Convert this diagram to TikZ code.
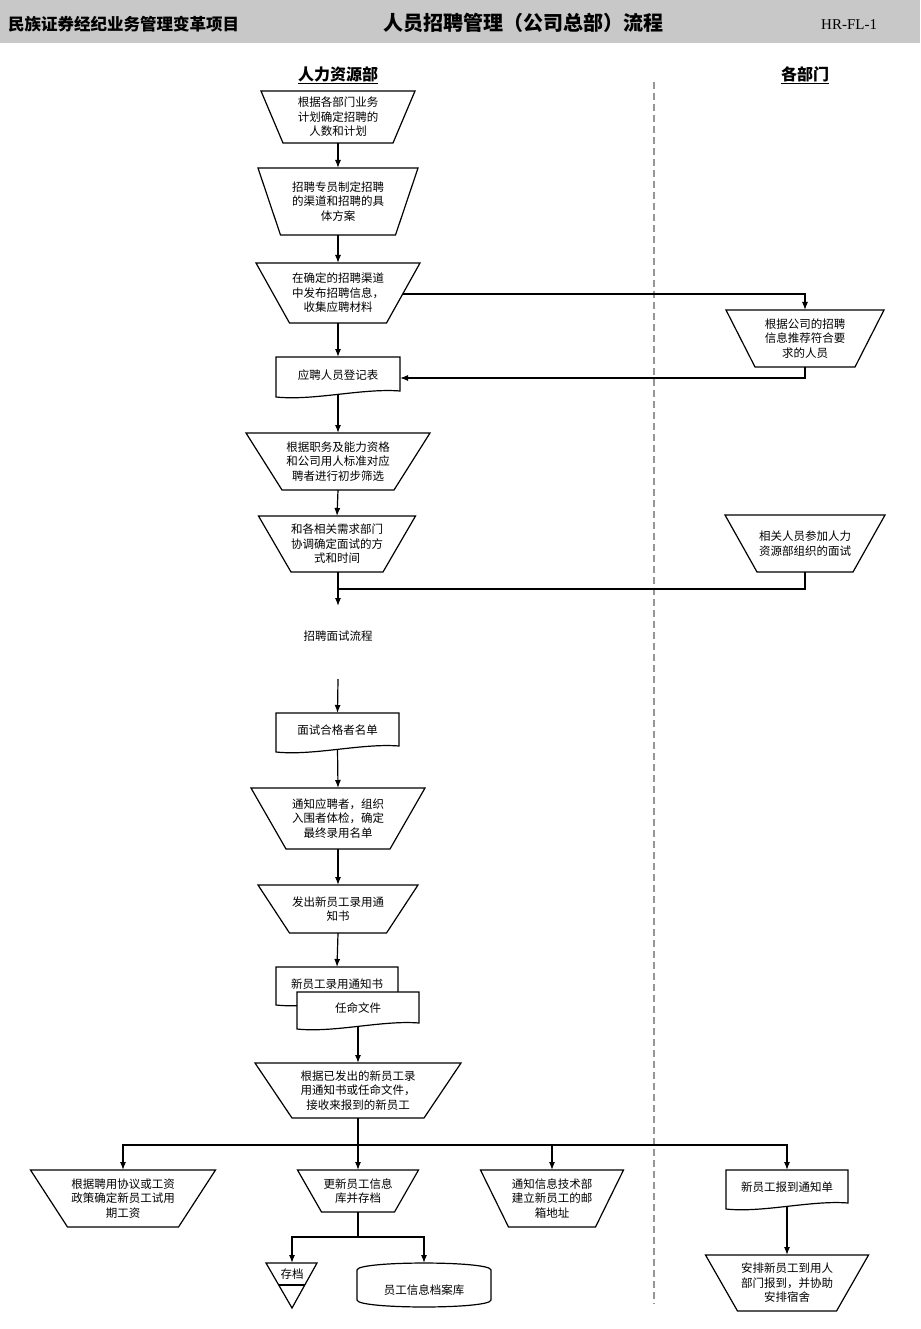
\documentclass[tikz,border=0pt]{standalone}
\usepackage{fontspec}
\setmainfont{Liberation Serif}
\newfontfamily\cjk{Noto Sans CJK SC}
\usetikzlibrary{arrows.meta}
\definecolor{hdrgray}{RGB}{200,200,200}
\definecolor{lanegray}{RGB}{150,150,150}
\tikzset{
  shp/.style={draw=black, line width=1.2pt, fill=white, line join=miter},
  txt/.style={font=\cjk\fontsize{11.5}{14.5}\selectfont, align=center, inner sep=0pt},
  con/.style={draw=black, line width=1.2pt},
  arr/.style={con, -{Latex[length=8pt,width=6pt]}},
  lane/.style={draw=lanegray, line width=1.2pt, dash pattern=on 7pt off 4pt},
  colhead/.style={font=\cjk\bfseries\fontsize{16}{18}\selectfont, inner sep=0pt},
}
% trapezoid: name, cx, ytop, half top, ybot, half bottom, text
\newcommand{\trapz}[7]{%
  \draw[shp] ({#2-#4},#3) -- ({#2+#4},#3) -- ({#2+#6},#5) -- ({#2-#6},#5) -- cycle;
  \node[txt] (#1) at (#2,{(#3+#5)/2}) {#7};
  \coordinate (#1t) at (#2,#3);
  \coordinate (#1b) at (#2,#5);
}
% document: name, x1, x2, ytop, ybottom(left), text
\newcommand{\docu}[6]{%
  \draw[shp] (#2,#5) -- (#2,#4) -- (#3,#4) -- (#3,{#5-6})
     .. controls ({#3-0.3*(#3-#2)},{#5-9}) and ({#2+0.3*(#3-#2)},{#5+4}) .. cycle;
  \node[txt] (#1) at ({(#2+#3)/2},{(#4+#5)/2-2}) {#6};
  \coordinate (#1t) at ({(#2+#3)/2},#4);
  \coordinate (#1b) at ({(#2+#3)/2},{#5-3});
}
\begin{document}
\begin{tikzpicture}[x=1pt,y=-1pt]
\useasboundingbox (0,0) rectangle (920,1329);
% header band
\fill[hdrgray] (0,0) rectangle (920,43);
\node[anchor=west, inner sep=0pt, font=\cjk\bfseries\fontsize{16.5}{18}\selectfont] (proj) at (8,24) {民族证券经纪业务管理变革项目};
\node[inner sep=0pt, font=\cjk\bfseries\fontsize{20}{22}\selectfont] (title) at (523,23) {人员招聘管理（公司总部）流程};
\node[anchor=west, inner sep=0pt, font=\fontsize{15}{17}\selectfont] (code) at (821,25) {HR-FL-1};
% column headings
\node[colhead] (hrdept) at (338,75) {\underline{人力资源部}};
\node[colhead] (depts) at (805,75) {\underline{各部门}};
% lane separator
\coordinate (laneT) at (654,82);
\coordinate (laneB) at (654,1304);
\draw[lane] (laneT) -- (laneB);

% nodes
\trapz{n1}{338}{91}{77}{143}{55}{根据各部门业务\\计划确定招聘的\\人数和计划}
\trapz{n2}{338}{168}{80}{235}{57.5}{招聘专员制定招聘\\的渠道和招聘的具\\体方案}
\trapz{n3}{338}{263}{82}{323}{48.5}{在确定的招聘渠道\\中发布招聘信息，\\收集应聘材料}
\trapz{r1}{805}{310}{79}{367}{50}{根据公司的招聘\\信息推荐符合要\\求的人员}
\docu{d4}{276}{400}{357}{397}{应聘人员登记表}
\trapz{n5}{338}{433}{92}{490}{56}{根据职务及能力资格\\和公司用人标准对应\\聘者进行初步筛选}
\trapz{n6}{337}{516}{78.5}{572}{46}{和各相关需求部门\\协调确定面试的方\\式和时间}
\trapz{r2}{805}{515}{80}{572}{48}{相关人员参加人力\\资源部组织的面试}
\node[txt] (interview) at (338,636) {招聘面试流程};
\docu{d7}{276}{399}{713}{752}{面试合格者名单}
\trapz{n8}{338}{788}{87}{849}{52}{通知应聘者，组织\\入围者体检，确定\\最终录用名单}
\trapz{n9}{338}{885}{80}{933}{48.5}{发出新员工录用通\\知书}
\docu{d9}{276}{398}{967}{1005}{新员工录用通知书}
\docu{d10}{297}{419}{992}{1029}{任命文件}
\trapz{n10}{358}{1063}{103}{1118}{66}{根据已发出的新员工录\\用通知书或任命文件，\\接收来报到的新员工}
\trapz{L1}{123}{1170}{92.5}{1227}{55.5}{根据聘用协议或工资\\政策确定新员工试用\\期工资}
\trapz{n12}{358}{1170}{60.5}{1212}{36.5}{更新员工信息\\库并存档}
\trapz{n13}{552}{1170}{71.5}{1227}{43.5}{通知信息技术部\\建立新员工的邮\\箱地址}
\docu{d14}{726}{848}{1170}{1209}{新员工报到通知单}
\trapz{n15}{787}{1255}{81.5}{1311}{49.5}{安排新员工到用人\\部门报到，并协助\\安排宿舍}
% archive triangle
\draw[shp] (266,1263) -- (317,1263) -- (292,1308) -- cycle;
\draw[con] (279,1285) -- (305,1285);
\node[txt] (arch) at (292,1274) {存档};
\coordinate (archt) at (292,1263);
% database cylinder
\draw[shp] (357,1270) -- (357,1300) .. controls (357,1309.3) and (491,1309.3) .. (491,1300)
   -- (491,1270) .. controls (491,1260.7) and (357,1260.7) .. (357,1270) -- cycle;
\node[txt] (db) at (424,1290) {员工信息档案库};
\coordinate (dbt) at (424,1263);

% helper coordinates
\coordinate (n3r) at (403,294);
\coordinate (d4r) at (400,378);
\coordinate (m589) at (338,589);
\coordinate (m606) at (338,606);
\coordinate (m679) at (338,679);
\coordinate (br) at (358,1145);
\coordinate (br2) at (358,1237);

% connectors
\draw[arr] (n1b) -- (n2t);
\draw[arr] (n2b) -- (n3t);
\draw[arr] (n3b) -- (d4t);
\draw[arr] (n3r) -| (r1t);
\draw[arr] (r1b) |- (d4r);
\draw[arr] (d4b) -- (n5t);
\draw[arr] (n5b) -- (n6t);
\draw[arr] (338,572) -- (m606);
\draw[con] (r2b) |- (m589);
\draw[arr] (m679) -- (d7t);
\draw[arr] (d7b) -- (n8t);
\draw[arr] (n8b) -- (n9t);
\draw[arr] (n9b) -- (d9t);
\draw[arr] (d10b) -- (n10t);
\draw[con] (n10b) -- (br);
\draw[arr] (br) -| (L1t);
\draw[arr] (br) -- (n12t);
\draw[arr] (br) -| (n13t);
\draw[arr] (br) -| (d14t);
\draw[arr] (d14b) -- (n15t);
\draw[con] (n12b) -- (br2);
\draw[arr] (br2) -| (archt);
\draw[arr] (br2) -| (dbt);
\end{tikzpicture}
\end{document}
